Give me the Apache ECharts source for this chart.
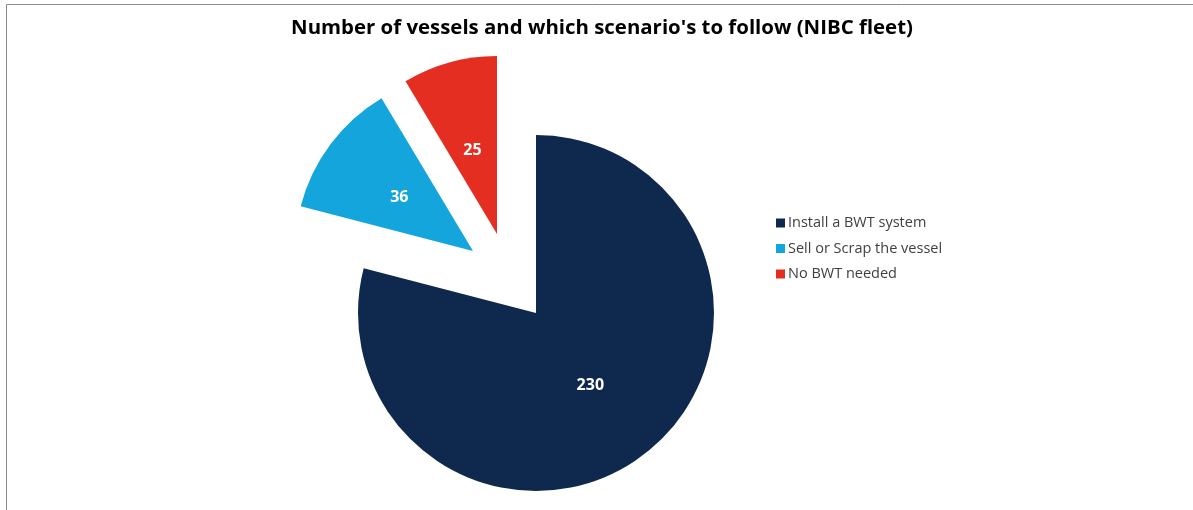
<!DOCTYPE html>
<html>
<head>
<meta charset="utf-8">
<script src="https://cdn.jsdelivr.net/npm/echarts@6/dist/echarts.min.js"></script>
<style>
  html, body { margin: 0; padding: 0; background: #ffffff; }
  #chart { width: 1193px; height: 510px; }
</style>
</head>
<body>
<div id="chart"></div>
<script>
// Fleet split by scenario
const categories = ['Install a BWT system', 'Sell or Scrap the vessel', 'No BWT needed'];
const vessels = [230, 36, 25];
const colors = ['#0f284d', '#13a5dc', '#e52e22'];

// Each slice gets its own pie layer so the two exploded pieces can sit at
// their own offsets; the other slices in a layer are left invisible.
const centers = [[536, 313], [473, 251], [497, 234]];
const radius = 178;

function layer(idx) {
  return {
    type: 'pie',
    name: categories[idx],
    center: centers[idx],
    radius: [0, radius],
    startAngle: 90,
    clockwise: true,
    silent: true,
    animation: false,
    avoidLabelOverlap: false,
    labelLine: { show: false },
    emphasis: { disabled: true },
    data: categories.map((name, i) => ({
      name: name,
      value: vessels[i],
      itemStyle: { color: i === idx ? colors[i] : 'rgba(0,0,0,0)' },
      label: {
        show: i === idx,
        position: 'inside',
        formatter: '{c}',
        color: '#ffffff',
        fontFamily: 'Open Sans',
        fontWeight: 'bold',
        fontSize: 16,
        offset: idx === 2 ? [0, 5] : (idx === 1 ? [0, 2] : [-2, 0])
      }
    }))
  };
}

const chart = echarts.init(document.getElementById('chart'), null, { renderer: 'canvas' });
chart.setOption({
  backgroundColor: '#ffffff',
  animation: false,
  title: {
    text: "Number of vessels and which scenario's to follow (NIBC fleet)",
    left: 602,
    top: 18,
    padding: 0,
    textAlign: 'center',
    textStyle: {
      fontFamily: 'Open Sans',
      fontWeight: 'bold',
      fontSize: 20.4,
      color: '#000000'
    }
  },
  legend: {
    orient: 'vertical',
    left: 776,
    top: 215,
    padding: 0,
    itemWidth: 9,
    itemHeight: 9,
    itemGap: 9.5,
    icon: 'rect',
    selectedMode: false,
    textStyle: {
      fontFamily: 'Open Sans',
      fontSize: 14.5,
      lineHeight: 16,
      color: '#404040',
      padding: [0, 0, 0, -2]
    },
    data: categories.map((name, i) => ({ name: name, itemStyle: { color: colors[i] } }))
  },
  graphic: [
    { type: 'line', shape: { x1: 6.5, y1: 4.5, x2: 1193, y2: 4.5 }, style: { stroke: '#8c8c8c', lineWidth: 1 } },
    { type: 'line', shape: { x1: 6.5, y1: 4.5, x2: 6.5, y2: 510 }, style: { stroke: '#8c8c8c', lineWidth: 1 } }
  ],
  series: [layer(0), layer(1), layer(2)]
});
</script>
</body>
</html>
